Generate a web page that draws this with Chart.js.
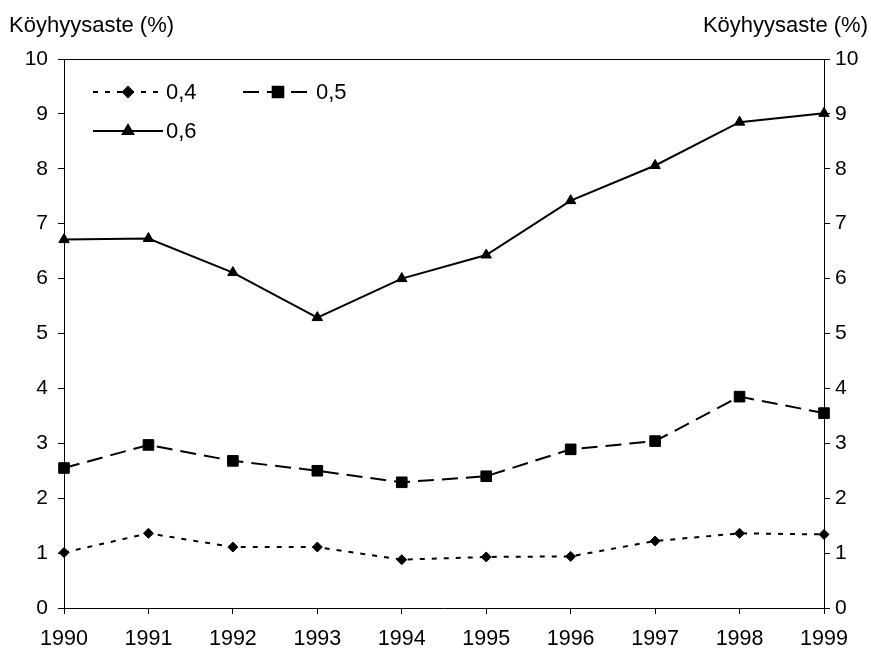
<!DOCTYPE html>
<html>
<head>
<meta charset="utf-8">
<script src="https://cdn.jsdelivr.net/npm/chart.js@4/dist/chart.umd.min.js"></script>
<style>
  html, body { margin: 0; padding: 0; background: #fff; }
  #wrap { width: 871px; height: 648px; }
</style>
</head>
<body>
<div id="wrap"><canvas id="povertyChart" width="871" height="648"></canvas></div>
<script>
// Data
const years = ['1990', '1991', '1992', '1993', '1994', '1995', '1996', '1997', '1998', '1999'];
const line04 = [1.01, 1.36, 1.11, 1.11, 0.88, 0.93, 0.94, 1.22, 1.36, 1.34];
const line05 = [2.55, 2.97, 2.68, 2.50, 2.29, 2.40, 2.89, 3.04, 3.85, 3.55];
const line06 = [6.71, 6.73, 6.11, 5.29, 6.00, 6.43, 7.42, 8.06, 8.85, 9.01];
const seriesNames = ['0,4', '0,5', '0,6'];
const axisTitle = 'Köyhyysaste (%)';

const FONT = 'Liberation Sans, Arial, sans-serif';

// axis titles on both sides + top frame line
const titlesPlugin = {
    id: 'titles',
    afterDraw(chart) {
        const c = chart.ctx;
        const area = chart.chartArea;
        c.save();
        c.fillStyle = '#000';
        c.font = '22px ' + FONT;
        c.textBaseline = 'alphabetic';
        c.textAlign = 'left';
        c.fillText(axisTitle, 9, 32);
        c.textAlign = 'right';
        c.fillText(axisTitle, 868, 32);
        c.strokeStyle = '#000';
        c.lineWidth = 1;
        c.beginPath();
        c.moveTo(area.left, area.top + 0.5);
        c.lineTo(area.right, area.top + 0.5);
        c.stroke();
        c.restore();
    }
};

// legend inside the plot: line sample with marker in the middle
const legendPlugin = {
    id: 'innerLegend',
    afterDatasetsDraw(chart) {
        const c = chart.ctx;
        const area = chart.chartArea;
        const spots = [
            { x: area.left + 29, y: area.top + 33 },
            { x: area.left + 179, y: area.top + 33 },
            { x: area.left + 29, y: area.top + 72 }
        ];
        chart.data.datasets.forEach((ds, i) => {
            const p = spots[i];
            const w = 70;
            c.save();
            c.strokeStyle = ds.borderColor;
            c.lineWidth = ds.borderWidth;
            c.setLineDash(ds.borderDash || []);
            c.beginPath();
            c.moveTo(p.x, p.y);
            c.lineTo(p.x + w, p.y);
            c.stroke();
            c.setLineDash([]);
            c.fillStyle = '#000';
            Chart.helpers.drawPoint(c, {
                pointStyle: ds.pointStyle,
                radius: ds.pointRadius,
                borderWidth: 1
            }, p.x + w / 2, p.y);
            c.font = '22px ' + FONT;
            c.textBaseline = 'middle';
            c.textAlign = 'left';
            c.fillText(ds.label, p.x + w + 3, p.y + 1);
            c.restore();
        });
    }
};

const makeSet = (label, data, dash, style, radius) => ({
    label: label,
    data: data,
    yAxisID: 'y',
    borderColor: '#000',
    backgroundColor: '#000',
    borderWidth: 2,
    borderDash: dash,
    pointStyle: style,
    pointRadius: radius,
    pointBackgroundColor: '#000',
    pointBorderColor: '#000',
    pointBorderWidth: 1,
    tension: 0,
    fill: false
});

const yTicks = (pad) => ({
    min: 0, max: 10,
    stepSize: 1,
    color: '#000',
    padding: pad,
    font: { family: FONT, size: 21 }
});

new Chart(document.getElementById('povertyChart').getContext('2d'), {
    type: 'line',
    data: {
        labels: years,
        datasets: [
            makeSet(seriesNames[0], line04, [5, 7], 'rectRot', 5),
            makeSet(seriesNames[1], line05, [16, 8], 'rect', 7.5),
            makeSet(seriesNames[2], line06, [], 'triangle', 6)
        ]
    },
    options: {
        responsive: false,
        animation: false,
        layout: { padding: { top: 59, left: 0, right: 0, bottom: 0 } },
        plugins: { legend: { display: false }, tooltip: { enabled: false } },
        scales: {
            x: {
                offset: false,
                grid: { drawOnChartArea: false, drawTicks: true, tickLength: 6, color: '#000' },
                border: { color: '#000', width: 1 },
                ticks: { color: '#000', padding: 12, maxRotation: 0, autoSkip: false, font: { family: FONT, size: 21.5 } },
                afterFit(scale) { scale.height = 40; }
            },
            y: {
                position: 'left',
                min: 0, max: 10,
                grid: { drawOnChartArea: false, drawTicks: true, tickLength: 6, color: '#000' },
                border: { color: '#000', width: 1 },
                ticks: yTicks(10),
                afterFit(scale) { scale.width = 64; }
            },
            y2: {
                position: 'right',
                min: 0, max: 10,
                grid: { drawOnChartArea: false, drawTicks: true, tickLength: 6, color: '#000' },
                border: { color: '#000', width: 1 },
                ticks: yTicks(5),
                afterFit(scale) { scale.width = 47; }
            }
        }
    },
    plugins: [titlesPlugin, legendPlugin]
});
</script>
</body>
</html>
